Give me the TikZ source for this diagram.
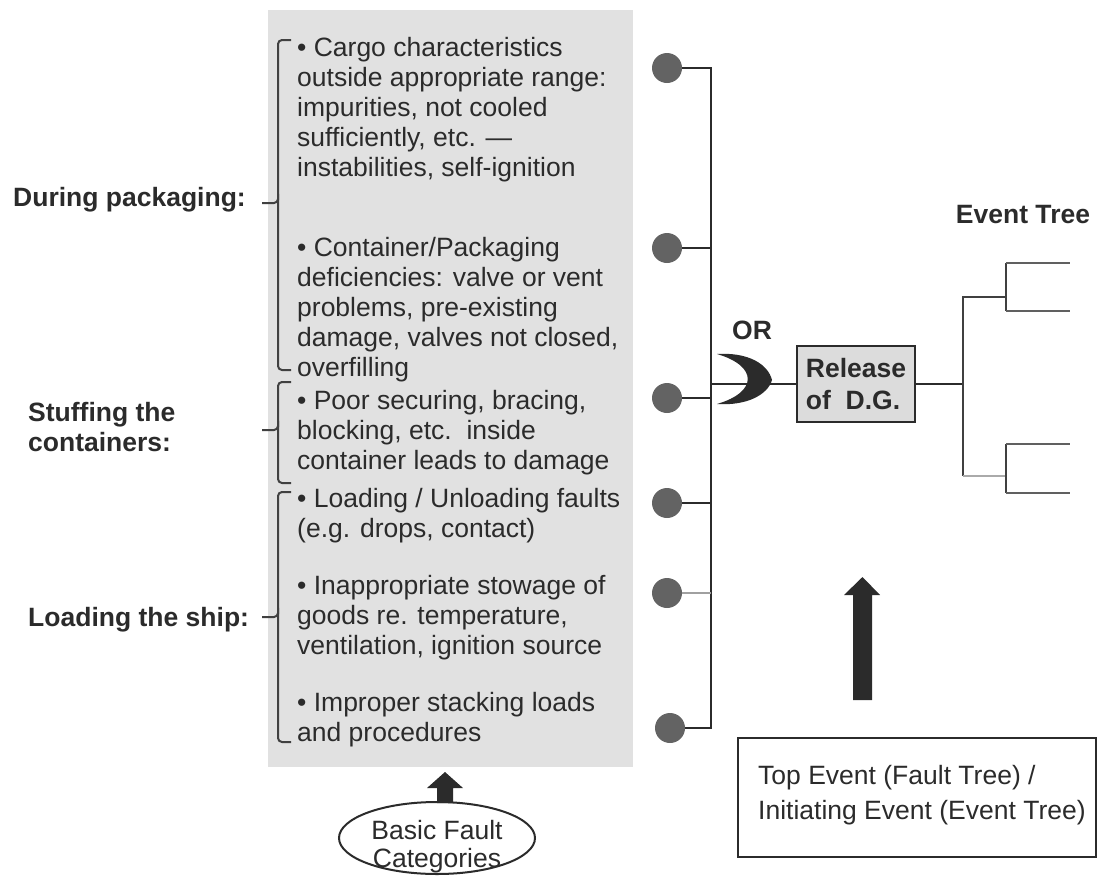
\documentclass[tikz,border=0pt]{standalone}
\usepackage{fontspec}
\setmainfont{Liberation Sans}
\usetikzlibrary{shapes.geometric}
\definecolor{ink}{HTML}{2B2B2B}
\definecolor{panel}{HTML}{E1E1E1}
\definecolor{dotgray}{HTML}{636363}
\definecolor{boxfill}{HTML}{DCDCDC}
\begin{document}
\begin{tikzpicture}[x=1pt,y=-1pt,
  txt/.style={font=\fontsize{26.5}{30}\selectfont, text=ink, inner sep=0pt, align=left, anchor=north west},
  lbl/.style={font=\fontsize{26.5}{30}\selectfont\bfseries, text=ink, inner sep=0pt, align=left, anchor=west},
  dotn/.style={circle, fill=dotgray, minimum size=30pt, inner sep=0pt},
  wire/.style={draw=ink, line width=2pt},
  thinwire/.style={draw=ink!45, line width=1.5pt},
  treeline/.style={draw=ink!90, line width=1.8pt},
  leaf/.style={draw=ink!75, line width=1.5pt},
  brk/.style={draw=ink!90, line width=2pt, rounded corners=4pt},
  fatarrow/.style={fill=ink, draw=none}
]
\useasboundingbox (0,0) rectangle (1097,876);

% grey panel of basic fault categories
\fill[panel] (268,10) rectangle (633,767);

% bullet blocks
\node[txt] (b1) at (297,37) {• Cargo characteristics\\outside appropriate range:\\impurities, not cooled\\sufficiently, etc. —\\instabilities, self-ignition};
\node[txt] (b2) at (297,237) {• Container/Packaging\\deficiencies: valve or vent\\problems, pre-existing\\damage, valves not closed,\\overfilling};
\node[txt] (b3) at (297,390) {• Poor securing, bracing,\\blocking, etc.\ \ inside\\container leads to damage};
\node[txt] (b4) at (297,488) {• Loading / Unloading faults\\(e.g. drops, contact)};
\node[txt] (b5) at (297,575) {• Inappropriate stowage of\\goods re. temperature,\\ventilation, ignition source};
\node[txt] (b6) at (297,692) {• Improper stacking loads\\and procedures};

% phase labels
\node[lbl] (l1) at (13,200) {During packaging:};
\node[lbl] (l2) at (28,427) {Stuffing the\\containers:};
\node[lbl] (l3) at (28,620) {Loading the ship:};

% brackets grouping the categories
\draw[brk] (291,40) -- (278,40) -- (278,370) -- (291,370);
\draw[brk] (278,200) -- (278,203) -- (262,203);
\draw[brk] (291,382) -- (278,382) -- (278,483) -- (291,483);
\draw[brk] (278,427) -- (278,430) -- (262,430);
\draw[brk] (291,492) -- (278,492) -- (278,742) -- (291,742);
\draw[brk] (278,614) -- (278,617) -- (262,617);

% input events and bus
\node[dotn] (d1) at (667,68) {};
\node[dotn] (d2) at (667,248) {};
\node[dotn] (d3) at (667,398) {};
\node[dotn] (d4) at (667,503) {};
\node[dotn] (d5) at (667,593) {};
\node[dotn] (d6) at (670,728) {};
\coordinate (busT) at (711,68);
\coordinate (busB) at (711,728);
\draw[wire] (d1.east) -- (busT) -- (busB) -- (d6.east);
\draw[wire] (d2.east) -- (d2.east -| busT);
\draw[wire] (d3.east) -- (d3.east -| busT);
\draw[wire] (d4.east) -- (d4.east -| busT);
\draw[thinwire] (d5.east) -- (d5.east -| busT);

% top event
\node[draw=ink, line width=2pt, fill=boxfill, minimum width=118pt, minimum height=76pt,
      align=left, inner sep=0pt, font=\fontsize{26.5}{32}\selectfont\bfseries, text=ink]
      (rel) at (856,384) {Release\\of\ \ D.G.};
\coordinate (busG) at (711,384);
\draw[wire] (busG) -- (rel.west);

% OR gate
\fill[ink] (717,354) .. controls (748,352) and (768,364) .. (772,380)
  .. controls (768,394) and (748,406) .. (717,404)
  .. controls (758,392) and (758,366) .. (717,354) -- cycle;
\node[font=\fontsize{26.5}{30}\selectfont\bfseries, text=ink, inner sep=0pt] (or) at (752,330) {OR};

% event tree
\node[font=\fontsize{26.5}{30}\selectfont\bfseries, text=ink, inner sep=0pt] (et) at (1023,215) {Event Tree};
\coordinate (root) at (963,384);
\draw[wire] (rel.east) -- (root);
\coordinate (rT) at (963,297);
\coordinate (rB) at (963,476);
\coordinate (uM) at (1006,297);
\coordinate (uT) at (1006,263);
\coordinate (uB) at (1006,311);
\coordinate (lM) at (1006,476);
\coordinate (lT) at (1006,444);
\coordinate (lB) at (1006,493);
\draw[treeline] (uM) -- (rT) -- (rB);
\draw[leaf, draw=ink!40] (rB) -- (lM);
\draw[treeline] (uT) -- (uB);
\draw[treeline] (lT) -- (lB);
\draw[leaf] (uT) -- (1070,263);
\draw[leaf] (uB) -- (1070,311);
\draw[leaf] (lT) -- (1070,444);
\draw[leaf] (lB) -- (1070,493);

% arrow up towards the top event
\fill[fatarrow] (853,700) -- (853,595) -- (844,595) -- (862.5,577) -- (880,595) -- (872,595) -- (872,700) -- cycle;

% description box
\draw[draw=ink, line width=2pt] (738,738) rectangle (1096,857);
\node[font=\fontsize{26.5}{35}\selectfont, text=ink, inner sep=0pt, align=left, anchor=west]
  (desc) at (758,795) {Top Event (Fault Tree) /\\Initiating Event (Event Tree)};

% basic fault categories
\node[ellipse, draw=ink, line width=2pt, fill=white, minimum width=196pt, minimum height=72pt, inner sep=0pt] (bfc) at (437,838) {};
\node[font=\fontsize{26.5}{28}\selectfont, text=ink, inner sep=0pt, align=center] (bfct) at (437,847) {Basic Fault\\Categories};
\fill[fatarrow] (437,803) -- (437,788) -- (427,788) -- (445,772) -- (463,788) -- (453,788) -- (453,803) -- cycle;
\end{tikzpicture}
\end{document}
